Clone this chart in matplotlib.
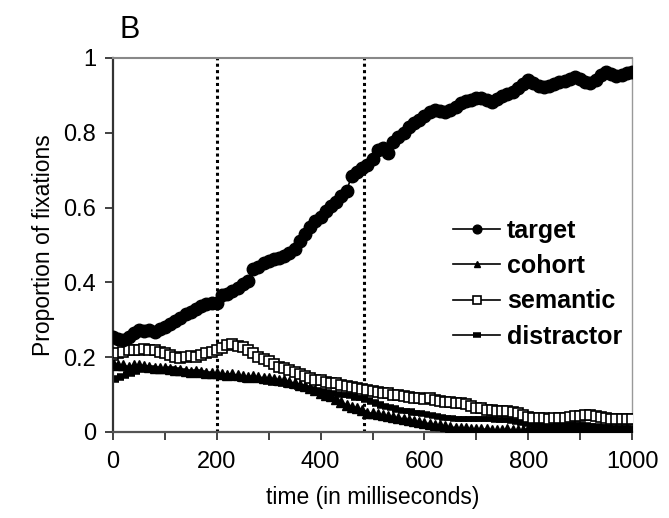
import numpy as np
import matplotlib
matplotlib.use("Agg")
import matplotlib.pyplot as plt
from matplotlib.ticker import MultipleLocator

# time axis, one sample every 10 ms
time_ms = np.arange(0, 1001, 10)

target = [0.255, 0.25, 0.245, 0.255, 0.265, 0.272, 0.27, 0.272, 0.268, 0.275,
          0.282, 0.29, 0.298, 0.305, 0.315, 0.322, 0.33, 0.337, 0.342, 0.345,
          0.345, 0.365, 0.37, 0.378, 0.385, 0.395, 0.405, 0.435, 0.44, 0.452,
          0.458, 0.462, 0.466, 0.47, 0.478, 0.49, 0.51, 0.53, 0.548, 0.563,
          0.575, 0.59, 0.605, 0.615, 0.63, 0.645, 0.685, 0.695, 0.705, 0.715,
          0.73, 0.755, 0.76, 0.745, 0.775, 0.79, 0.8, 0.815, 0.826, 0.835,
          0.845, 0.856, 0.86, 0.858, 0.855, 0.862, 0.87, 0.88, 0.885, 0.888,
          0.892, 0.893, 0.888, 0.883, 0.89, 0.898, 0.905, 0.91, 0.92, 0.93,
          0.94, 0.932, 0.926, 0.923, 0.925, 0.93, 0.936, 0.938, 0.943, 0.95,
          0.945, 0.935, 0.932, 0.94, 0.955, 0.963, 0.958, 0.952, 0.955, 0.96,
          0.962]

cohort = [0.185, 0.18, 0.178, 0.175, 0.178, 0.18, 0.177, 0.175, 0.172, 0.17,
          0.17, 0.168, 0.165, 0.165, 0.162, 0.16, 0.162, 0.16, 0.158, 0.157,
          0.158, 0.155, 0.153, 0.155, 0.152, 0.15, 0.148, 0.15, 0.147, 0.145,
          0.145, 0.142, 0.14, 0.138, 0.135, 0.13, 0.127, 0.123, 0.118, 0.112,
          0.105, 0.1, 0.095, 0.088, 0.08, 0.072, 0.068, 0.065, 0.06, 0.052,
          0.05, 0.047, 0.045, 0.043, 0.04, 0.038, 0.035, 0.033, 0.03, 0.028,
          0.025, 0.022, 0.02, 0.018, 0.015, 0.013, 0.012, 0.01, 0.01, 0.008,
          0.008, 0.007, 0.008, 0.006, 0.005, 0.006, 0.007, 0.006, 0.005, 0.006,
          0.008, 0.01, 0.012, 0.011, 0.01, 0.009, 0.01, 0.012, 0.011, 0.01,
          0.009, 0.008, 0.008, 0.007, 0.008, 0.009, 0.008, 0.007, 0.006, 0.007,
          0.006]

semantic = [0.205, 0.21, 0.215, 0.22, 0.218, 0.22, 0.222, 0.218, 0.22, 0.215,
            0.21, 0.205, 0.2, 0.198, 0.2, 0.202, 0.2, 0.205, 0.21, 0.215,
            0.22, 0.225, 0.232, 0.235, 0.23, 0.228, 0.22, 0.21, 0.2, 0.195,
            0.19, 0.182, 0.175, 0.17, 0.165, 0.16, 0.155, 0.15, 0.145, 0.14,
            0.138, 0.135, 0.132, 0.13, 0.127, 0.124, 0.12, 0.118, 0.115, 0.113,
            0.11, 0.108, 0.105, 0.103, 0.1, 0.098, 0.095, 0.093, 0.09, 0.09,
            0.088, 0.09, 0.085, 0.082, 0.08, 0.08, 0.078, 0.077, 0.075, 0.07,
            0.065, 0.063, 0.06, 0.058, 0.057, 0.055, 0.055, 0.054, 0.05, 0.045,
            0.04, 0.038, 0.037, 0.037, 0.036, 0.037, 0.037, 0.038, 0.04, 0.042,
            0.044, 0.046, 0.045, 0.042, 0.04, 0.038, 0.036, 0.035, 0.035, 0.036,
            0.035]

distractor = [0.14, 0.145, 0.15, 0.155, 0.16, 0.165, 0.168, 0.17, 0.168, 0.165,
              0.166, 0.168, 0.165, 0.163, 0.16, 0.158, 0.16, 0.157, 0.155, 0.152,
              0.15, 0.148, 0.15, 0.147, 0.145, 0.142, 0.14, 0.142, 0.14, 0.138,
              0.135, 0.132, 0.13, 0.128, 0.125, 0.122, 0.12, 0.118, 0.115, 0.112,
              0.11, 0.108, 0.105, 0.102, 0.1, 0.098, 0.095, 0.092, 0.09, 0.085,
              0.08, 0.075, 0.07, 0.067, 0.063, 0.06, 0.057, 0.055, 0.052, 0.05,
              0.048, 0.045, 0.042, 0.04, 0.038, 0.037, 0.036, 0.035, 0.036, 0.035,
              0.035, 0.034, 0.035, 0.034, 0.033, 0.033, 0.032, 0.03, 0.028, 0.025,
              0.022, 0.02, 0.018, 0.017, 0.016, 0.015, 0.015, 0.016, 0.018, 0.02,
              0.02, 0.018, 0.016, 0.015, 0.014, 0.013, 0.012, 0.012, 0.011, 0.01,
              0.01]

marker_times = [200, 483]
x_ticks = [0, 200, 400, 600, 800, 1000]
y_ticks = [0, 0.2, 0.4, 0.6, 0.8, 1]

plt.rcParams['font.family'] = ['Liberation Sans', 'DejaVu Sans']

fig = plt.figure(figsize=(6.69, 5.18), dpi=100)
ax = fig.add_axes([113 / 669, 1 - 432 / 518, (632 - 113) / 669, (432 - 58) / 518])

for t in marker_times:
    ax.plot([t, t], [0, 1], color='k', lw=2.2, linestyle=(0, (1, 1.1)),
            dash_capstyle='butt', zorder=1)

ax.plot(time_ms, distractor, color='k', lw=1.2, marker='_', ms=8, mew=4,
        label='distractor', zorder=2)
ax.plot(time_ms, cohort, color='k', lw=1.2, marker='^', ms=6.5,
        label='cohort', zorder=3)
ax.plot(time_ms, semantic, color='k', lw=1.2, marker='s', ms=7.5, mfc='white',
        mec='k', mew=1.2, label='semantic', zorder=4)
ax.plot(time_ms, target, color='k', lw=1.2, marker='o', ms=9,
        label='target', zorder=5)

ax.set_xlim(0, 1000)
ax.set_ylim(0, 1)
ax.set_xticks(x_ticks)
ax.set_yticks(y_ticks)
ax.set_yticklabels(['0', '0.2', '0.4', '0.6', '0.8', '1'])
ax.xaxis.set_minor_locator(MultipleLocator(100))
ax.tick_params(axis='both', which='both', direction='out', length=6,
               width=1.3, color='#333333', labelsize=17, pad=6)
ax.tick_params(axis='x', pad=8)

ax.spines['left'].set_color('#333333')
ax.spines['bottom'].set_color('#555555')
ax.spines['top'].set_color('#888888')
ax.spines['right'].set_color('#999999')
ax.spines['left'].set_linewidth(1.6)
ax.spines['bottom'].set_linewidth(1.6)
ax.spines['top'].set_linewidth(1.5)
ax.spines['right'].set_linewidth(1.0)

ax.set_xlabel('time (in milliseconds)', fontsize=16.5, labelpad=9)
ax.set_ylabel('Proportion of fixations', fontsize=16.5, labelpad=6)

handles, labels = ax.get_legend_handles_labels()
order = [3, 1, 2, 0]
ax.legend([handles[i] for i in order], [labels[i] for i in order],
          loc='upper left', bbox_to_anchor=(0.655, 0.57), frameon=False,
          borderpad=0, borderaxespad=0, handlelength=1.9, handletextpad=0.25,
          labelspacing=0.45, markerscale=0.7, prop={'weight': 'bold', 'size': 18})

fig.text(119 / 669, 1 - 38 / 518, 'B', fontsize=22)

fig.savefig('out.png', dpi=100)
